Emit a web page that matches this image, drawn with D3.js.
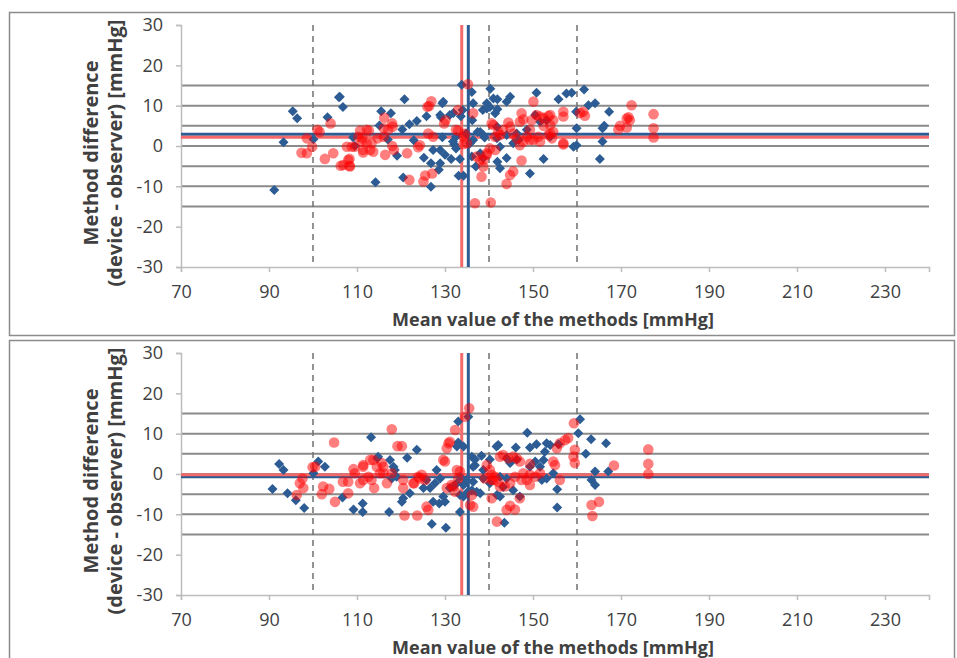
<!DOCTYPE html>
<html>
<head>
<meta charset="utf-8">
<script src="https://cdn.jsdelivr.net/npm/d3@7"></script>
<style>
  body { margin: 0; background: #fff; }
  svg { display: block; }
  text { font-family: "Open Sans", sans-serif; fill: #404040; }
</style>
</head>
<body>
<div id="chart"></div>
<script>
// tick labels
var xTicks = [70, 90, 110, 130, 150, 170, 190, 210, 230];
var yTicks = [-30, -20, -10, 0, 10, 20, 30];
// reference lines (limits in mmHg) and dashed mean-value marks
var limitLines = [15, 10, 5, 0, -5, -10, -15];
var dashedLines = [100, 140, 160];

// mean of methods / mean difference for each series: [meanValue, meanDiff]
var topBlueMean = [135.3, 2.9];
var topRedMean = [133.8, 2.2];
var bottomBlueMean = [135.3, -0.7];
var bottomRedMean = [133.8, -0.2];

// [mean value, difference] pairs, upper chart
var topBlue = [
  [91.2,-10.9],[93.3,0.9],[95.4,8.6],[96.4,6.9],[100.1,1.7],[103.3,7.1],[105.9,12.1],[106.8,9.7],
  [109.1,2.2],[109.5,0],[114.2,-9],[115.5,8.6],[117.7,8.1],[115.1,5.1],[117,1.6],[119.1,-2.4],
  [120.8,11.6],[120.3,4.1],[121.9,5.4],[123.6,6.2],[122.9,1.4],[120.5,-7.8],[125.2,-2.9],[125.8,7.4],
  [126.8,-10.1],[126.8,-4.3],[127.3,-1],[128.9,-1],[128.9,-4.3],[128.6,-5.9],[129.4,10.6],[129.1,7.1],
  [128.9,7.7],[129.4,2.2],[130,-2.2],[131.4,-3.2],[132.1,0.4],[132.5,-0.6],[133.4,-3.2],[133.1,-7.4],
  [134.2,-7.4],[131.9,8.2],[131.1,7.7],[133.6,7.4],[134,8.9],[133.8,15.2],[134.8,3.1],[136.1,13.4],
  [136.4,10.6],[136.2,6.4],[136.1,-2.6],[137.4,3.5],[138,-1.8],[137,-5.1],[138.6,8.9],[139,2.1],
  [139.5,10.6],[140.3,14.2],[141,11.8],[141.9,9.1],[141.8,4.8],[141.8,1.9],[141.9,-3.9],[139.5,9.3],
  [140.2,9.7],[141.4,8.1],[141.9,11.6],[144,11],[144.8,12.2],[150.8,13.2],[150.5,7.7],[155.8,11.6],
  [157.6,13],[158.8,13.2],[161.6,14],[159.8,8.5],[162.6,10.1],[164.1,10.6],[167.3,8.5],[159.9,4.4],
  [165.8,4.4],[166.2,5],[165.8,1.1],[159.9,0.2],[159.2,-0.2],[165.2,-3.2],[152.4,-3.2],[149.3,-6.8],
  [142.5,-5.5],[138.7,-3],[146.3,3.1],[148.6,4],[151.6,6],[153.1,6.4],[145.5,0.7],[146.7,1.5],
  [144,-3],[138,3.5],[138.7,2.7],[136.4,1.5],[135.7,0.7],[132.5,2.3],[131.8,1.1],[144,2.7],
  [142.5,-0.2],[153.9,2.3],[129.6,11],[106.1,12.2]
];
var topRed = [
  [101,4],[101.5,3.5],[104,5.6],[98.6,1.9],[99.8,-0.2],[97.4,-1.7],[98.6,-1.8],[102.7,-3.2],
  [104.6,-1.8],[106.3,-4.9],[108.3,-4.9],[108.3,-3.2],[107.7,-0.2],[109.5,-0.2],[108.8,-0.2],[110.7,3.8],
  [112.7,3.8],[111.2,1.9],[111.4,-1.6],[113.3,0.7],[113.7,-1.4],[114.7,1.9],[116.2,7],[116.4,-2.2],
  [116.1,2.3],[117.1,4],[118.1,4.8],[118.4,-1],[118,0],[118,5.6],[116.1,4.4],[110.3,2.3],
  [111.1,1.1],[112.2,0.7],[112.2,4],[108,-3.5],[106.9,-4.7],[108.4,-5.1],[111.4,-1],[113,-1],
  [121.4,-1.8],[121.9,-8.4],[123.9,-0.3],[124.3,0.2],[125.5,-7.3],[125.1,-8.8],[127.1,-6.8],[126.2,3.1],
  [127.3,2.3],[126,9.7],[126.9,11.1],[126.4,9.9],[130.1,6.4],[129.8,5.6],[132.5,4],[133,8.9],
  [134.2,2.3],[134.2,0.5],[135,0.7],[135.2,15.3],[136.4,8.1],[133,3.8],[134.5,3],[138,-3.5],
  [138.7,-5.1],[138.3,-7.6],[136.8,-14.2],[140.4,-14],[141,5.2],[141.4,-1],[139.5,-1.8],[137.2,-2.6],
  [172.4,10.1],[171.7,7.1],[171.3,6.8],[172,6.4],[169.8,5],[171.3,4.6],[169.4,4.1],[177.4,7.9],
  [177.4,4.4],[177.4,2.1],[161.4,8.5],[160.7,8.2],[161.8,7.5],[156.9,8.5],[156.9,7.3],[150.1,11],
  [147.4,8.1],[147.8,6.6],[147,6],[150.8,7.7],[151.6,7.3],[153.5,7.4],[154.6,6.4],[153.9,5.2],
  [152.4,5],[154.6,3.5],[153.5,2.7],[156.9,0.7],[151.2,2.3],[151.6,1.1],[150.1,1.5],[148.6,2.3],
  [149.3,1.5],[147.8,1.1],[147,0.2],[145.5,3.1],[146.3,1.9],[143.2,4],[142.5,2.7],[142.1,3.5],
  [141.4,2.3],[144.4,5.8],[144.8,4.8],[140.6,5.6],[140.2,-0.6],[139.5,-2.2],[138.7,-3.5],[147.4,-3.6],
  [145.5,-6.3],[144.8,-7.2],[144,-9.4],[149.7,6.4],[149.3,4],[153.9,7.7],[152.4,6.9],[153.9,3.1],
  [154.3,1.9],[156.9,0.4]
];

// lower chart
var bottomBlue = [
  [90.8,-3.7],[92.3,2.5],[93.3,1],[94.2,-4.8],[96.1,-6.5],[98,-8.4],[101.2,3.1],[102.7,1.8],
  [100.1,0.2],[106.7,-5.8],[109.2,-8.8],[111.3,-9.4],[111.3,-7.3],[113.2,9.1],[114.6,3.9],[114.8,4.3],
  [117.5,3.5],[117.9,-1.1],[119,-0.7],[118.3,1.8],[118.6,1],[121.4,4],[123.6,6],[117.3,-9.4],
  [120.2,-6.9],[120.5,-6],[122,-4.8],[125.1,-3.5],[126.6,-3.5],[125.8,-1.5],[128.1,1],[128.9,-1.1],
  [127.7,-2.3],[127.3,-6.9],[128.7,-7.3],[129.6,-5.6],[130,-6.9],[127,-12.4],[130.2,-13.3],[131.1,-3.5],
  [131.9,-3.1],[132.7,-2.3],[133.4,-9.4],[133,13],[134.2,6.8],[133,7.8],[132.7,6.8],[134.2,-5.6],
  [133.4,-5.2],[135.2,-4.4],[135.3,14.2],[136.1,4.3],[136.8,2.2],[136.4,-1.9],[136.1,-4],[137.2,-4.4],
  [138.3,4.5],[136.8,3.6],[136.4,1.8],[138.7,1],[140.2,3.6],[141.7,6.8],[144,3.9],[144.8,2.7],
  [146.3,3.6],[149.3,1.8],[150.5,3.1],[151.6,1.8],[152.4,3.5],[152,-1.5],[153.1,-1.1],[154.6,0.2],
  [141.8,-5.2],[142.5,-5.6],[143.2,-3.2],[138,-4.8],[147,-5.6],[145.5,-4],[138.7,-1.1],[140.2,-2.3],
  [133.4,-0.7],[134.2,-2.7],[134.9,-1.5],[142.5,-0.7],[144,-1.1],[160.7,13.6],[160.3,10.1],[163.2,8.6],
  [166.6,7.6],[162,5],[148.7,10.2],[142.1,7.2],[146.1,6.6],[149.3,6.6],[150.8,7.4],[153.1,7.6],
  [153.9,7.2],[155.8,7.4],[152.7,5.5],[164.1,0.6],[163.3,-1.5],[164.1,-2.7],[167.1,0.6],[155.5,-3.8],
  [155.5,-8.3],[143.5,-12.1]
];
var bottomRed = [
  [99.9,1.7],[100.5,1.8],[97.6,-1.1],[97,-2.3],[97.8,-3.5],[96.3,-5.2],[102.3,-3.1],[102,-5],
  [103.7,-3.7],[105,-6.9],[104.8,7.8],[106.8,-1.9],[108,-1.9],[108,-4.8],[109.2,1.2],[109.5,0.2],
  [110.7,-2.3],[111.4,-1.5],[111.4,2.2],[111.4,1.8],[113,3.5],[113.7,3.5],[112.6,-0.7],[113.3,-1.5],
  [113.9,-3.5],[114.5,1.8],[115.6,2.7],[116,1.8],[115.2,0.2],[116,0.2],[117.9,11.1],[119.2,6.9],
  [120.2,6.9],[117.9,0.2],[116.8,-2.3],[120.5,-3.5],[120.5,-1.5],[122.8,-2.3],[123,-2.3],[123.9,-0.7],
  [120.8,-10.3],[123.7,-10.3],[124.7,-0.2],[125.5,-1.5],[124.3,-1.1],[125.8,-8.1],[126.2,-8.9],[129.6,3.5],
  [130,3.1],[130.4,6.4],[130.8,7.6],[131.1,8],[132.3,10.9],[132.7,1],[133,-1.1],[133.4,0.6],
  [131.9,-3.1],[131.5,-2.7],[130.4,-3.5],[132.3,-4.4],[134.5,14.2],[135.5,16.3],[136.1,-5.2],[136.4,-8.1],
  [135.7,-7.7],[139.5,2.2],[140.6,-0.2],[141,-1.5],[139.1,-1.1],[140.2,1],[140.6,-1.5],[141.4,-0.7],
  [142.1,-1.9],[142.5,4.3],[143.2,4.7],[144.4,3.9],[145.5,4.3],[146.3,3.9],[147,3.1],[143.6,-3.1],
  [142.5,-3.1],[144.8,-2.3],[145.9,-0.7],[147.4,-1.5],[147.8,0.2],[148.6,-1.5],[149.3,-0.2],[149.3,-2.7],
  [150.5,-0.7],[151.6,0.2],[149.3,2.5],[154.6,3.1],[155,2.2],[156.1,-1.5],[140.6,-6],[144.8,-7.9],
  [145.9,-8.8],[144,-8.9],[147,-6],[141.8,-11.8],[155.4,6.4],[156.1,7.6],[157.3,8.4],[158,8.9],
  [159.3,12.6],[159.5,6],[159.2,4.3],[159.5,2.7],[168.4,2.1],[163.3,-7.7],[165,-6.9],[163.5,-10.4],
  [176.2,6.1],[176.2,2.5],[176.2,0]
];

var width = 957, height = 658;
var svg = d3.select("#chart").append("svg")
  .attr("width", width)
  .attr("height", height);

var blueColor = "#2c5c93",
    redColor = "#ff0000",
    redLine = "#f26a6a",
    gridColor = "#8a8a8a";

var x = d3.scaleLinear().domain([70, 240]).range([181, 929]);

function drawPanel(boxTop, boxBottom, plotTop, plotBottom, blue, red, blueMean, redMean) {
  var y = d3.scaleLinear().domain([-30, 30]).range([plotBottom, plotTop]);

  // frame
  svg.append("rect")
    .attr("x", 9.5).attr("y", boxTop + 0.5)
    .attr("width", 945).attr("height", boxBottom - boxTop)
    .attr("fill", "none")
    .attr("stroke", "#8c8c8c")
    .attr("stroke-width", 1.5);

  var g = svg.append("g");

  // limit lines
  g.selectAll(".limit").data(limitLines).enter().append("line")
    .attr("x1", x(70)).attr("x2", x(240))
    .attr("y1", function(d) { return y(d); })
    .attr("y2", function(d) { return y(d); })
    .attr("stroke", gridColor)
    .attr("stroke-width", 2);

  // dashed verticals
  g.selectAll(".dash").data(dashedLines).enter().append("line")
    .attr("x1", function(d) { return x(d); })
    .attr("x2", function(d) { return x(d); })
    .attr("y1", plotTop).attr("y2", plotBottom)
    .attr("stroke", "#707070")
    .attr("stroke-width", 1.5)
    .attr("stroke-dasharray", "6,5");

  // axes (plain hyphen minus like the original)
  var fmt = function(d) { return String(d); };
  var yAxis = d3.axisLeft(y).tickValues(yTicks).tickSize(5).tickPadding(13).tickFormat(fmt);
  var yg = g.append("g").attr("transform", "translate(" + x(70) + ",0)").call(yAxis);
  var xAxis = d3.axisBottom(x).tickValues(xTicks).tickSize(5).tickPadding(13).tickFormat(fmt);
  var xg = g.append("g").attr("transform", "translate(0," + plotBottom + ")").call(xAxis);
  [yg, xg].forEach(function(a) {
    a.select(".domain").attr("stroke", "#bdbdbd").attr("stroke-width", 1.5);
    a.selectAll(".tick line").attr("stroke", "#bdbdbd").attr("stroke-width", 1.5);
    a.selectAll(".tick text")
      .attr("font-family", "Open Sans, sans-serif")
      .attr("font-size", 18)
      .attr("fill", "#404040");
  });

  // mean lines (horizontal + vertical) for both series
  g.append("line")
    .attr("x1", x(70)).attr("x2", x(240))
    .attr("y1", y(blueMean[1])).attr("y2", y(blueMean[1]))
    .attr("stroke", blueColor).attr("stroke-width", 3);
  g.append("line")
    .attr("x1", x(70)).attr("x2", x(240))
    .attr("y1", y(redMean[1])).attr("y2", y(redMean[1]))
    .attr("stroke", redLine).attr("stroke-width", 3);
  g.append("line")
    .attr("x1", x(redMean[0])).attr("x2", x(redMean[0]))
    .attr("y1", plotTop).attr("y2", plotBottom)
    .attr("stroke", redLine).attr("stroke-width", 3);
  g.append("line")
    .attr("x1", x(blueMean[0])).attr("x2", x(blueMean[0]))
    .attr("y1", plotTop).attr("y2", plotBottom)
    .attr("stroke", blueColor).attr("stroke-width", 3);

  // blue diamonds
  g.selectAll(".bd").data(blue).enter().append("path")
    .attr("d", "M0,-5L5,0L0,5L-5,0Z")
    .attr("transform", function(d) { return "translate(" + x(d[0]) + "," + y(d[1]) + ")"; })
    .attr("fill", blueColor);

  // red circles (semi transparent)
  g.selectAll(".rc").data(red).enter().append("circle")
    .attr("cx", function(d) { return x(d[0]); })
    .attr("cy", function(d) { return y(d[1]); })
    .attr("r", 5.3)
    .attr("fill", redColor)
    .attr("fill-opacity", 0.5);

  // axis titles
  g.append("text")
    .attr("x", 553).attr("y", plotBottom + 59)
    .attr("text-anchor", "middle")
    .attr("font-weight", "bold")
    .attr("font-size", 18)
    .attr("fill", "#262626")
    .text("Mean value of the methods [mmHg]");

  var cy = (plotTop + plotBottom) / 2 + 7;
  g.append("text")
    .attr("transform", "translate(98," + cy + ") rotate(-90)")
    .attr("text-anchor", "middle")
    .attr("font-weight", "bold")
    .attr("font-size", 20)
    .attr("fill", "#262626")
    .text("Method difference");
  g.append("text")
    .attr("transform", "translate(122," + cy + ") rotate(-90)")
    .attr("text-anchor", "middle")
    .attr("font-weight", "bold")
    .attr("font-size", 20)
    .attr("fill", "#262626")
    .text("(device - observer) [mmHg]");
}

drawPanel(12, 335, 25, 267, topBlue, topRed, topBlueMean, topRedMean);
drawPanel(340, 670, 353, 595, bottomBlue, bottomRed, bottomBlueMean, bottomRedMean);
</script>
</body>
</html>
